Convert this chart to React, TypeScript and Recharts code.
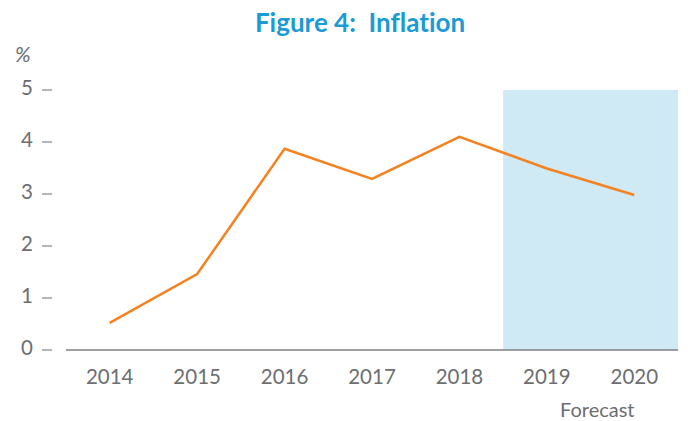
import { ComposedChart, Line, XAxis, YAxis, ReferenceArea } from "recharts";

const years = ["2014", "2015", "2016", "2017", "2018", "2019", "2020"];
const inflation = [0.52, 1.46, 3.87, 3.29, 4.1, 3.49, 2.98];
const yTicks = [0, 1, 2, 3, 4, 5];
const forecastStart = "2019";
const forecastEnd = "2020";

const data = years.map((year, i) => ({ year, value: inflation[i] }));

const GREY = "#6d6e71";
const FONT = "Lato, 'Open Sans', sans-serif";

const LeftTick = (props: any) => {
  const { x, y, payload } = props;
  return (
    <g>
      <text x={x - 33} y={y + 5} textAnchor="end" fill={GREY} fontSize={20.5} fontFamily={FONT}>
        {payload.value}
      </text>
      <line x1={x - 24} x2={x - 14} y1={y} y2={y} stroke={GREY} strokeWidth={1} />
    </g>
  );
};

const RightTick = (props: any) => {
  const { x, y } = props;
  return <line x1={x + 16} x2={x + 22} y1={y} y2={y} stroke={GREY} strokeWidth={1} />;
};

const BottomTick = (props: any) => {
  const { x, y, payload } = props;
  return (
    <text x={x} y={y + 34} textAnchor="middle" fill={GREY} fontSize={20.5} fontFamily={FONT}>
      {payload.value}
    </text>
  );
};

export default function App() {
  return (
    <div style={{ position: "absolute", left: 0, top: 0, width: 699, height: 421, background: "#fff", fontFamily: FONT }}>
      <div
        style={{
          position: "absolute",
          left: 0,
          width: 720,
          top: 6,
          textAlign: "center",
          color: "#1b9ad6",
          fontWeight: 700,
          fontSize: 26,
          fontVariantLigatures: "none",
        }}
      >
        Figure 4:&nbsp; Inflation
      </div>
      <div style={{ position: "absolute", left: 15, top: 41, color: GREY, fontStyle: "italic", fontSize: 21 }}>%</div>
      <div style={{ position: "absolute", left: 560, top: 397, color: GREY, fontSize: 20 }}>Forecast</div>
      <ComposedChart
        width={699}
        height={421}
        data={data}
        margin={{ top: 90, right: 0, bottom: 0, left: 16 }}
      >
        <ReferenceArea
          x1={forecastStart}
          x2={forecastEnd}
          y1={0}
          y2={5}
          yAxisId="left"
          fill="#cfe9f5"
          fillOpacity={1}
          stroke="none"
        />
        <XAxis
          dataKey="year"
          scale="band"
          ticks={years}
          axisLine={{ stroke: "#808080", strokeWidth: 1.5 }}
          tickLine={false}
          tickSize={0}
          tickMargin={0}
          tick={<BottomTick />}
          interval={0}
          height={71}
        />
        <YAxis
          yAxisId="left"
          domain={[0, 5]}
          ticks={yTicks}
          axisLine={false}
          tickLine={false}
          tickSize={0}
          tickMargin={0}
          tick={<LeftTick />}
          width={50}
        />
        <YAxis
          yAxisId="right"
          orientation="right"
          domain={[0, 5]}
          ticks={yTicks}
          axisLine={false}
          tickLine={false}
          tickSize={0}
          tickMargin={0}
          tick={<RightTick />}
          width={21}
        />
        <Line
          yAxisId="left"
          type="linear"
          dataKey="value"
          stroke="#f58220"
          strokeWidth={2.5}
          dot={false}
          isAnimationActive={false}
        />
      </ComposedChart>
    </div>
  );
}
